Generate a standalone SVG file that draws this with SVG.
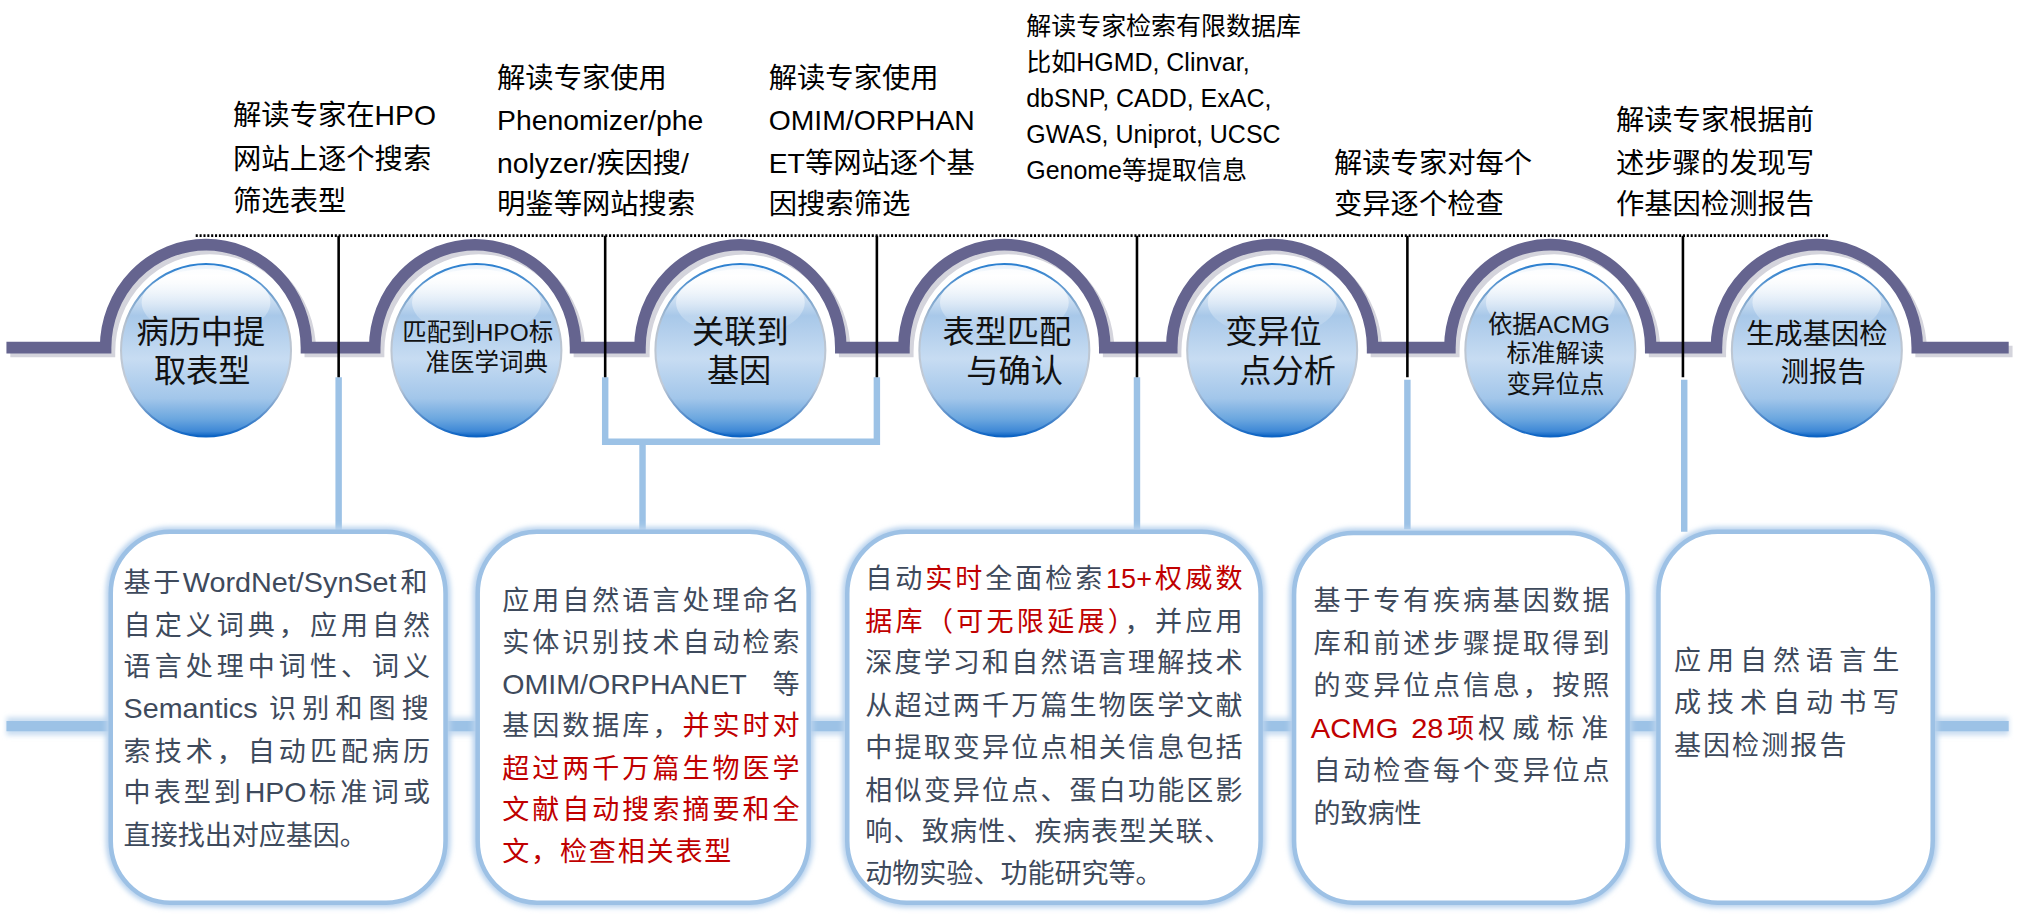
<svg xmlns="http://www.w3.org/2000/svg" width="2019" height="915" viewBox="0 0 2019 915">
<style>
  text { font-family: "Liberation Sans", "Noto Sans CJK SC", sans-serif; }
  .note { font-size: 22px; fill: #000; }
  .note2 { font-size: 19.4px; fill: #000; }
  .ball { font-size: 25px; fill: #111; text-anchor: middle; }
  .ballS { font-size: 19px; fill: #111; text-anchor: middle; }
  .ballM { font-size: 22px; fill: #111; text-anchor: middle; }
  .bt { font-size: 21px; fill: #3e4a5c; }
  .r { fill: #c00000; }
  .g { fill: #3e4a5c; }
  .blk { stroke: #000; stroke-width: 2; fill: none; }
  .lb { stroke: #9cc2e6; stroke-width: 5; fill: none; }
  .boxglow { fill: none; stroke: #b9d3ee; stroke-width: 8; }
  .box { fill: #fff; stroke: #9dc1e5; stroke-width: 3.5; }
  .orb { fill: url(#ballGrad); stroke: url(#rimGrad); stroke-width: 1.6; }
  .hl { fill: url(#hlGrad); }
  .track { fill: none; stroke: #65648f; stroke-width: 9; }
  .trackShadow { fill: none; stroke: #d4d4dc; stroke-width: 9; }
</style>
<defs>
  <linearGradient id="ballGrad" x1="0" y1="0" x2="0" y2="1">
    <stop offset="0" stop-color="#e3eefa"/>
    <stop offset="0.07" stop-color="#ffffff"/>
    <stop offset="0.3" stop-color="#a8c8e9"/>
    <stop offset="0.55" stop-color="#c7dcf2"/>
    <stop offset="0.78" stop-color="#a2c6ea"/>
    <stop offset="0.9" stop-color="#6aa6df"/>
    <stop offset="0.97" stop-color="#3e88d6"/>
    <stop offset="1" stop-color="#0b63c4"/>
  </linearGradient>
  <linearGradient id="rimGrad" x1="0" y1="0" x2="0" y2="1">
    <stop offset="0" stop-color="#2a7fd0"/>
    <stop offset="0.35" stop-color="#b7c2cf"/>
    <stop offset="0.7" stop-color="#c3cbd6"/>
    <stop offset="1" stop-color="#0b63c4"/>
  </linearGradient>
  <linearGradient id="hlGrad" x1="0" y1="0" x2="0" y2="1">
    <stop offset="0" stop-color="#ffffff" stop-opacity="0.85"/>
    <stop offset="1" stop-color="#ffffff" stop-opacity="0"/>
  </linearGradient>
  <filter id="blur" filterUnits="userSpaceOnUse" x="0" y="0" width="1568" height="710">
    <feGaussianBlur stdDeviation="2"/>
  </filter>
</defs>
<rect x="0" y="0" width="2019" height="915" fill="#fff"/>
<g transform="scale(1.28763)">

  <g id="connectors">
    <line x1="5" y1="564" x2="1560" y2="564" stroke="#c9ddf1" stroke-width="14" filter="url(#blur)"/>
    <line x1="5" y1="564" x2="1560" y2="564" stroke="#9cc2e6" stroke-width="8"/>
    <path class="lb" d="M263 293 V413"/>
    <path class="lb" d="M470 293 V343 H681 V293 M499 343 V413"/>
    <path class="lb" d="M883 293 V411"/>
    <path class="lb" d="M1093 295 V411"/>
    <path class="lb" d="M1308 295 V413"/>
  </g>

  <g id="track">
    <path class="trackShadow" transform="translate(3,3)" d="M5 270 H82 A78 80 0 0 1 238 270 H291 A78 80 0 0 1 447 270 H497 A78 80 0 0 1 653 270 H702 A78 80 0 0 1 858 270 H910 A78 80 0 0 1 1066 270 H1126 A78 80 0 0 1 1282 270 H1333 A78 80 0 0 1 1489 270 H1560"/>
    <path class="track" d="M5 270 H82 A78 80 0 0 1 238 270 H291 A78 80 0 0 1 447 270 H497 A78 80 0 0 1 653 270 H702 A78 80 0 0 1 858 270 H910 A78 80 0 0 1 1066 270 H1126 A78 80 0 0 1 1282 270 H1333 A78 80 0 0 1 1489 270 H1560"/>
  </g>

  <g id="guides">
    <line x1="152" y1="183" x2="1421" y2="183" stroke="#000" stroke-width="2" stroke-dasharray="1.6 1.4"/>
    <path class="blk" d="M263 183 V293 M470 183 V293 M681 183 V293 M883 183 V293 M1093 183 V293 M1307 183 V293"/>
  </g>

  <g id="step1">
    <ellipse class="orb" cx="160" cy="272" rx="66" ry="67"/>
    <ellipse class="hl" cx="160" cy="235" rx="50" ry="26"/>
    <text class="ball" x="156" y="266">病历中提</text>
    <text class="ball" x="157" y="297">取表型</text>
  </g>
  <g id="step2">
    <ellipse class="orb" cx="370" cy="272" rx="66" ry="67"/>
    <ellipse class="hl" cx="370" cy="235" rx="50" ry="26"/>
    <text class="ballS" x="371" y="265">匹配到HPO标</text>
    <text class="ballS" x="378" y="288">准医学词典</text>
  </g>
  <g id="step3">
    <ellipse class="orb" cx="575" cy="272" rx="66" ry="67"/>
    <ellipse class="hl" cx="575" cy="235" rx="50" ry="26"/>
    <text class="ball" x="575" y="266">关联到</text>
    <text class="ball" x="574" y="297">基因</text>
  </g>
  <g id="step4">
    <ellipse class="orb" cx="780" cy="272" rx="66" ry="67"/>
    <ellipse class="hl" cx="780" cy="235" rx="50" ry="26"/>
    <text class="ball" x="782" y="266">表型匹配</text>
    <text class="ball" x="788" y="297">与确认</text>
  </g>
  <g id="step5">
    <ellipse class="orb" cx="988" cy="272" rx="66" ry="67"/>
    <ellipse class="hl" cx="988" cy="235" rx="50" ry="26"/>
    <text class="ball" x="989" y="266">变异位</text>
    <text class="ball" x="1000" y="297">点分析</text>
  </g>
  <g id="step6">
    <ellipse class="orb" cx="1204" cy="272" rx="66" ry="67"/>
    <ellipse class="hl" cx="1204" cy="235" rx="50" ry="26"/>
    <text class="ballS" x="1203" y="259">依据ACMG</text>
    <text class="ballS" x="1208" y="281">标准解读</text>
    <text class="ballS" x="1208" y="305">变异位点</text>
  </g>
  <g id="step7">
    <ellipse class="orb" cx="1411" cy="272" rx="66" ry="67"/>
    <ellipse class="hl" cx="1411" cy="235" rx="50" ry="26"/>
    <text class="ballM" x="1411" y="267">生成基因检</text>
    <text class="ballM" x="1416" y="297">测报告</text>
  </g>

  <g id="note1">
    <text class="note" x="181" y="97">解读专家在HPO</text>
    <text class="note" x="181" y="131">网站上逐个搜索</text>
    <text class="note" x="181" y="164">筛选表型</text>
  </g>
  <g id="note2">
    <text class="note" x="386" y="68">解读专家使用</text>
    <text class="note" x="386" y="101">Phenomizer/phe</text>
    <text class="note" x="386" y="134">nolyzer/疾因搜/</text>
    <text class="note" x="386" y="166">明鉴等网站搜索</text>
  </g>
  <g id="note3">
    <text class="note" x="597" y="68">解读专家使用</text>
    <text class="note" x="597" y="101">OMIM/ORPHAN</text>
    <text class="note" x="597" y="134">ET等网站逐个基</text>
    <text class="note" x="597" y="166">因搜索筛选</text>
  </g>
  <g id="note4">
    <text class="note2" x="797" y="27">解读专家检索有限数据库</text>
    <text class="note2" x="797" y="55">比如HGMD, Clinvar,</text>
    <text class="note2" x="797" y="83">dbSNP, CADD, ExAC,</text>
    <text class="note2" x="797" y="111">GWAS, Uniprot, UCSC</text>
    <text class="note2" x="797" y="139">Genome等提取信息</text>
  </g>
  <g id="note5">
    <text class="note" x="1036" y="134">解读专家对每个</text>
    <text class="note" x="1036" y="166">变异逐个检查</text>
  </g>
  <g id="note6">
    <text class="note" x="1255" y="101">解读专家根据前</text>
    <text class="note" x="1255" y="134">述步骤的发现写</text>
    <text class="note" x="1255" y="166">作基因检测报告</text>
  </g>

  <g id="box1">
    <rect class="boxglow" x="86" y="413" width="260" height="288" rx="46" ry="48" filter="url(#blur)"/>
    <rect class="box" x="86" y="413" width="260" height="288" rx="46" ry="48"/>
    <text class="bt" x="96" y="460" textLength="44" lengthAdjust="spacing">基于</text>
    <text class="bt" x="142" y="460" textLength="166" lengthAdjust="spacingAndGlyphs">WordNet/SynSet</text>
    <text class="bt" x="311" y="460">和</text>
    <text class="bt" x="96" y="493" textLength="238" lengthAdjust="spacing">自定义词典，应用自然</text>
    <text class="bt" x="96" y="525" textLength="238" lengthAdjust="spacing">语言处理中词性、词义</text>
    <text class="bt" x="96" y="558" textLength="104" lengthAdjust="spacingAndGlyphs">Semantics</text>
    <text class="bt" x="209" y="558" textLength="124" lengthAdjust="spacing">识别和图搜</text>
    <text class="bt" x="96" y="591" textLength="238" lengthAdjust="spacing">索技术，自动匹配病历</text>
    <text class="bt" x="96" y="623" textLength="91" lengthAdjust="spacing">中表型到</text>
    <text class="bt" x="190" y="623" textLength="48" lengthAdjust="spacingAndGlyphs">HPO</text>
    <text class="bt" x="240" y="623" textLength="94" lengthAdjust="spacing">标准词或</text>
    <text class="bt" x="96" y="656">直接找出对应基因。</text>
  </g>

  <g id="box2">
    <rect class="boxglow" x="371" y="413" width="257" height="288" rx="46" ry="48" filter="url(#blur)"/>
    <rect class="box" x="371" y="413" width="257" height="288" rx="46" ry="48"/>
    <text class="bt" x="390" y="474" textLength="231" lengthAdjust="spacing">应用自然语言处理命名</text>
    <text class="bt" x="390" y="506" textLength="231" lengthAdjust="spacing">实体识别技术自动检索</text>
    <text class="bt" x="390" y="539" textLength="190" lengthAdjust="spacingAndGlyphs">OMIM/ORPHANET</text>
    <text class="bt" x="600" y="539">等</text>
    <text class="bt" x="390" y="571" textLength="231" lengthAdjust="spacing">基因数据库，<tspan class="r">并实时对</tspan></text>
    <text class="bt r" x="390" y="604" textLength="231" lengthAdjust="spacing">超过两千万篇生物医学</text>
    <text class="bt r" x="390" y="636" textLength="231" lengthAdjust="spacing">文献自动搜索摘要和全</text>
    <text class="bt r" x="390" y="669" textLength="178" lengthAdjust="spacing">文，检查相关表型</text>
  </g>

  <g id="box3">
    <rect class="boxglow" x="658" y="413" width="321" height="288" rx="46" ry="48" filter="url(#blur)"/>
    <rect class="box" x="658" y="413" width="321" height="288" rx="46" ry="48"/>
    <text class="bt" x="672" y="457" textLength="184" lengthAdjust="spacing">自动<tspan class="r">实时</tspan>全面检索</text>
    <text class="bt r" x="859" y="457">15+</text>
    <text class="bt r" x="897" y="457" textLength="68" lengthAdjust="spacing">权威数</text>
    <text class="bt" x="672" y="490" textLength="293" lengthAdjust="spacing"><tspan class="r">据库（可无限延展）</tspan>，并应用</text>
    <text class="bt" x="672" y="522" textLength="293" lengthAdjust="spacing">深度学习和自然语言理解技术</text>
    <text class="bt" x="672" y="555" textLength="293" lengthAdjust="spacing">从超过两千万篇生物医学文献</text>
    <text class="bt" x="672" y="588" textLength="293" lengthAdjust="spacing">中提取变异位点相关信息包括</text>
    <text class="bt" x="672" y="621" textLength="293" lengthAdjust="spacing">相似变异位点、蛋白功能区影</text>
    <text class="bt" x="672" y="653" textLength="284" lengthAdjust="spacing">响、致病性、疾病表型关联、</text>
    <text class="bt" x="672" y="686">动物实验、功能研究等。</text>
  </g>

  <g id="box4">
    <rect class="boxglow" x="1005" y="414" width="259" height="287" rx="46" ry="48" filter="url(#blur)"/>
    <rect class="box" x="1005" y="414" width="259" height="287" rx="46" ry="48"/>
    <text class="bt" x="1020" y="474" textLength="230" lengthAdjust="spacing">基于专有疾病基因数据</text>
    <text class="bt" x="1020" y="507" textLength="230" lengthAdjust="spacing">库和前述步骤提取得到</text>
    <text class="bt" x="1020" y="540" textLength="230" lengthAdjust="spacing">的变异位点信息，按照</text>
    <text class="bt r" x="1018" y="573" textLength="68" lengthAdjust="spacingAndGlyphs">ACMG</text>
    <text class="bt r" x="1096" y="573" textLength="25" lengthAdjust="spacingAndGlyphs">28</text>
    <text class="bt r" x="1124" y="573">项</text>
    <text class="bt" x="1148" y="573" textLength="101" lengthAdjust="spacing">权威标准</text>
    <text class="bt" x="1020" y="606" textLength="230" lengthAdjust="spacing">自动检查每个变异位点</text>
    <text class="bt" x="1020" y="639">的致病性</text>
  </g>

  <g id="box5">
    <rect class="boxglow" x="1288" y="413" width="213" height="288" rx="46" ry="48" filter="url(#blur)"/>
    <rect class="box" x="1288" y="413" width="213" height="288" rx="46" ry="48"/>
    <text class="bt" x="1300" y="520" textLength="175" lengthAdjust="spacing">应用自然语言生</text>
    <text class="bt" x="1300" y="553" textLength="175" lengthAdjust="spacing">成技术自动书写</text>
    <text class="bt" x="1300" y="586" textLength="134" lengthAdjust="spacing">基因检测报告</text>
  </g>
</g>
</svg>
